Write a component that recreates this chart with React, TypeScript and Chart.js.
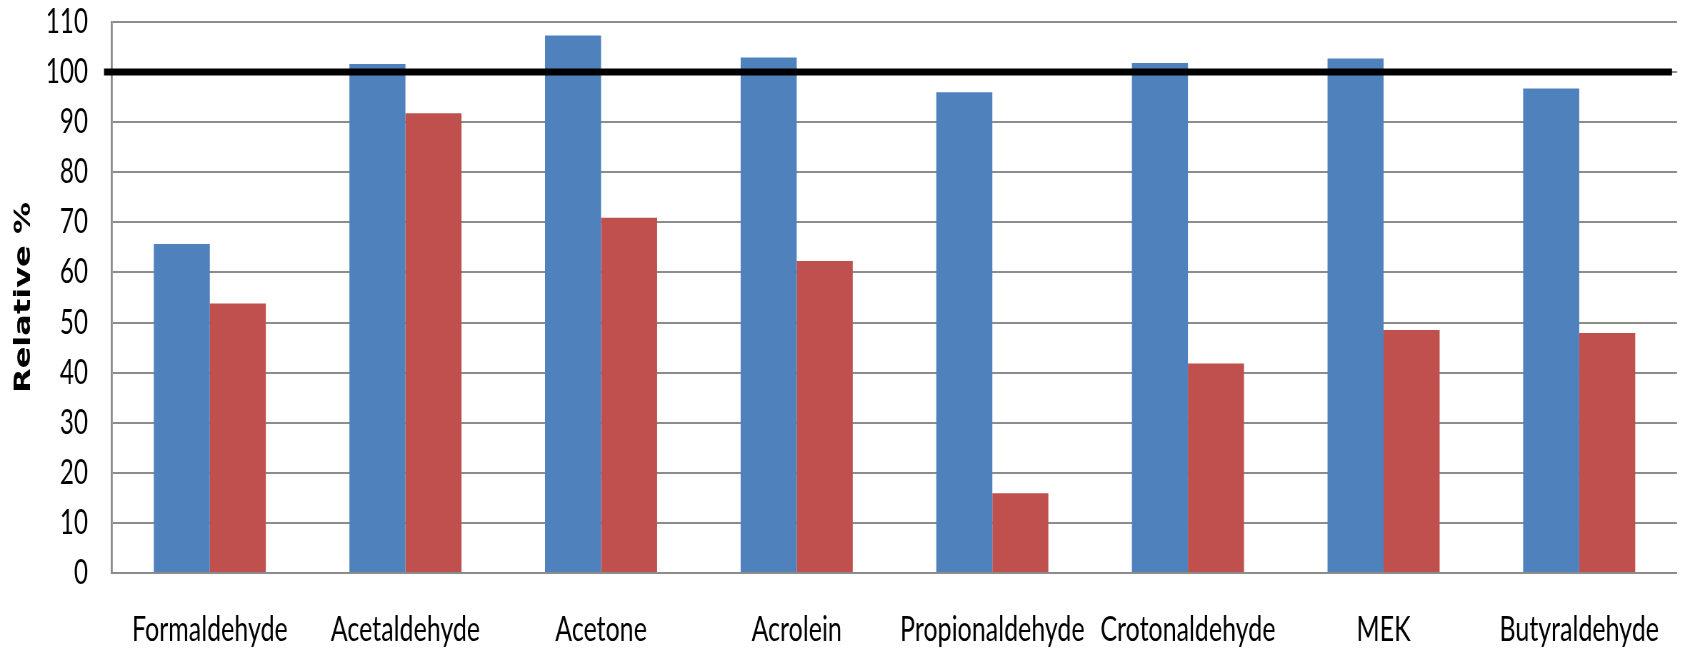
import React, { useEffect, useRef } from "react";
import { Chart, registerables } from "chart.js";

Chart.register(...registerables);

const categories = [
  "Formaldehyde",
  "Acetaldehyde",
  "Acetone",
  "Acrolein",
  "Propionaldehyde",
  "Crotonaldehyde",
  "MEK",
  "Butyraldehyde",
];

const seriesBlue = [65.7, 101.6, 107.3, 102.9, 96.0, 101.8, 102.7, 96.7];
const seriesRed = [53.8, 91.8, 70.9, 62.3, 15.9, 41.8, 48.5, 47.9];

const yMin = 0;
const yMax = 110;
const yStep = 10;
const referenceLevel = 100;

// The chart is laid out on a wider canvas and squeezed horizontally,
// which gives the tall, narrow lettering of the figure.
const WIDTH = 1685;
const HEIGHT = 653;
const SQUEEZE = 1.4;
const CANVAS_W = Math.round(WIDTH * SQUEEZE);

const labelFont = "Lato, 'Open Sans', sans-serif";

// Thick black reference line at 100 %, drawn over the bars
const referenceLinePlugin = {
  id: "referenceLine",
  afterDatasetsDraw(chart: any) {
    const { ctx, chartArea, scales } = chart;
    const y = scales.y.getPixelForValue(referenceLevel);
    ctx.save();
    ctx.strokeStyle = "#000000";
    ctx.lineWidth = 7;
    ctx.beginPath();
    ctx.moveTo(chartArea.left - 8 * SQUEEZE, y);
    ctx.lineTo(chartArea.right - 5 * SQUEEZE, y);
    ctx.stroke();
    ctx.restore();
  },
};

export default function App() {
  const canvasRef = useRef<HTMLCanvasElement | null>(null);

  useEffect(() => {
    if (!canvasRef.current) return;
    const chart = new Chart(canvasRef.current, {
      type: "bar",
      data: {
        labels: categories,
        datasets: [
          {
            label: "Series 1",
            data: seriesBlue,
            backgroundColor: "#4F81BD",
            borderWidth: 0,
          },
          {
            label: "Series 2",
            data: seriesRed,
            backgroundColor: "#C0504D",
            borderWidth: 0,
          },
        ],
      },
      options: {
        responsive: false,
        animation: false,
        maintainAspectRatio: false,
        devicePixelRatio: 1,
        layout: { padding: { top: 22, right: 8 * SQUEEZE, bottom: 0, left: 0 } },
        datasets: {
          bar: { categoryPercentage: 0.573, barPercentage: 1.0 },
        },
        plugins: {
          legend: { display: false },
          tooltip: { enabled: false },
          title: { display: false },
        },
        scales: {
          x: {
            afterFit(scale: any) {
              scale.height = 80;
              scale.paddingLeft = 0;
              scale.paddingRight = 0;
            },
            grid: { display: false, drawTicks: false },
            border: { display: true, color: "#8C8C8C", width: 2 },
            ticks: {
              color: "#000000",
              padding: 36,
              maxRotation: 0,
              autoSkip: false,
              font: { family: labelFont, size: 35 },
            },
          },
          y: {
            min: yMin,
            max: yMax,
            afterFit(scale: any) {
              scale.width = 112 * SQUEEZE;
              scale.paddingTop = 0;
              scale.paddingBottom = 0;
            },
            grid: { color: "#8C8C8C", lineWidth: 2, drawTicks: false },
            border: { display: true, color: "#8C8C8C", width: 2 * SQUEEZE },
            ticks: {
              stepSize: yStep,
              color: "#000000",
              padding: 24 * SQUEEZE,
              font: { family: labelFont, size: 34 },
            },
            title: {
              display: true,
              text: "Relative %",
              color: "#000000",
              padding: { top: 14, bottom: 0 },
              font: { family: "'DejaVu Sans', sans-serif", size: 32, weight: "bold" },
            },
          },
        },
      },
      plugins: [referenceLinePlugin],
    });
    return () => chart.destroy();
  }, []);

  return (
    <div
      style={{
        position: "fixed",
        left: 0,
        top: 0,
        width: WIDTH,
        height: HEIGHT,
        overflow: "hidden",
        background: "#FFFFFF",
      }}
    >
      <canvas
        ref={canvasRef}
        width={CANVAS_W}
        height={HEIGHT}
        style={{
          display: "block",
          transform: `scaleX(${1 / SQUEEZE})`,
          transformOrigin: "0 0",
        }}
      />
    </div>
  );
}
